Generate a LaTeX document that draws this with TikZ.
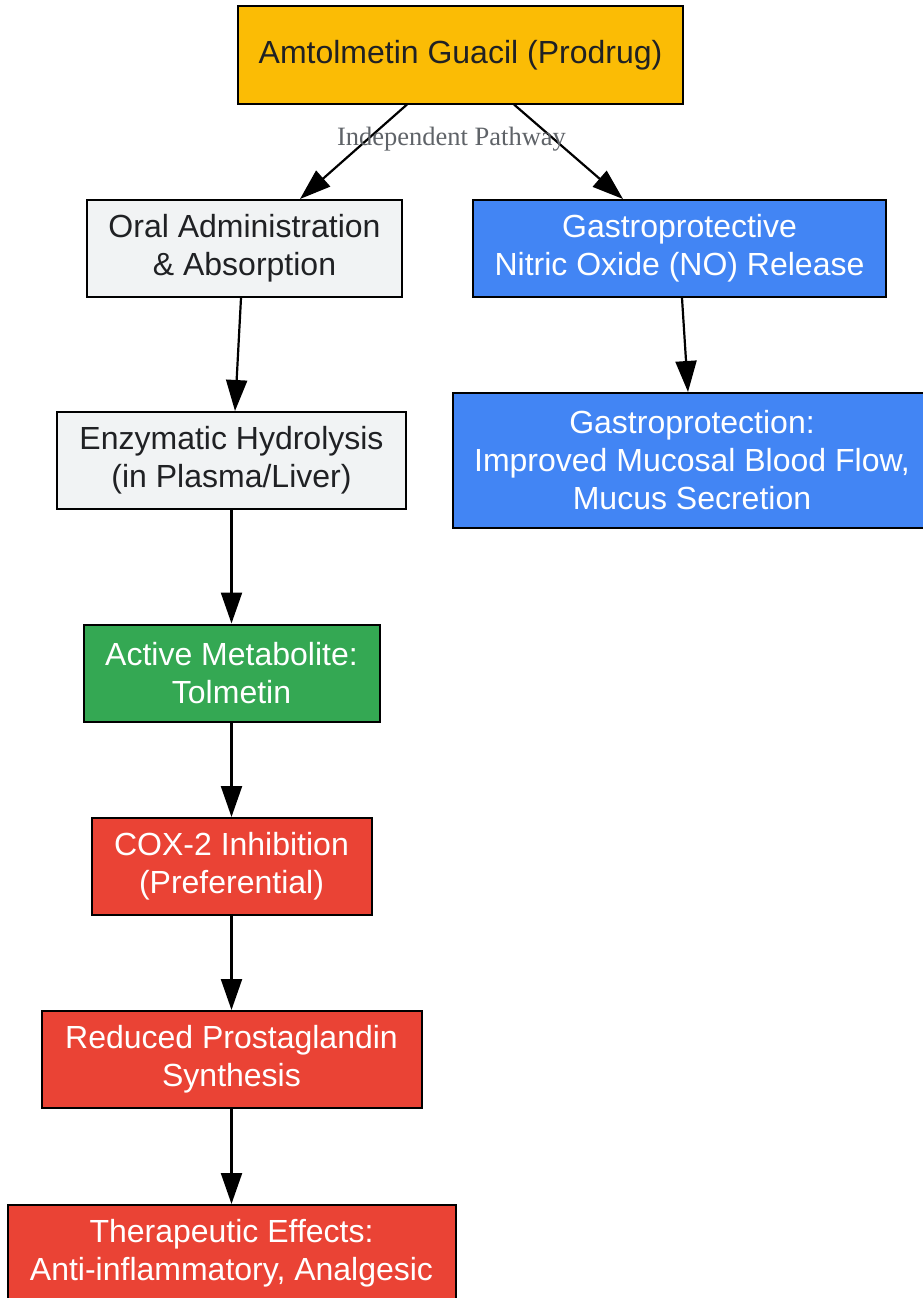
\documentclass[tikz,border=0pt]{standalone}
\usepackage{xcolor}
\usepackage{fontspec}
\setmainfont{Liberation Sans}
\newfontfamily\pathfont{Liberation Serif}
\usetikzlibrary{arrows.meta}

\definecolor{prodrug}{HTML}{FBBC05}
\definecolor{stepgray}{HTML}{F1F3F4}
\definecolor{gastroblue}{HTML}{4285F4}
\definecolor{metagreen}{HTML}{34A853}
\definecolor{effectred}{HTML}{EA4335}
\definecolor{darktext}{HTML}{202124}
\definecolor{labelgray}{HTML}{5F6368}

\tikzset{
    box/.style={rectangle, draw=black, line width=2pt, minimum height=97pt,
        align=center, inner xsep=20pt, font=\fontsize{32}{38}\selectfont},
    arr/.style={-{Triangle[length=31pt,width=21pt]}, line width=2.2pt},
    pathlabel/.style={text=labelgray, font=\pathfont\fontsize{26.5}{30}\selectfont}
}

\begin{document}
\begin{tikzpicture}[x=1pt, y=1pt, node distance=193.5pt]
    \useasboundingbox (0,0) rectangle (922,-1298);

    % Prodrug
    \node (amt) [box, fill=prodrug, text=darktext, minimum width=445pt] at (460.5,-55) {Amtolmetin Guacil (Prodrug)};

    % Metabolic route
    \node (oral) [box, fill=stepgray, text=darktext, minimum width=315pt, below of=amt, xshift=-216pt] {Oral Administration\\\& Absorption};
    \node (hydro) [box, fill=stepgray, text=darktext, minimum width=349pt, below of=oral, yshift=-18.5pt, xshift=-13pt] {Enzymatic Hydrolysis\\(in Plasma/Liver)};
    \node (tolm) [box, fill=metagreen, text=white, minimum width=296pt, below of=hydro, yshift=-19pt] {Active Metabolite:\\Tolmetin};
    \node (cox) [box, fill=effectred, text=white, minimum width=280pt, below of=tolm] {COX-2 Inhibition\\(Preferential)};
    \node (pg) [box, fill=effectred, text=white, minimum width=380pt, below of=cox, yshift=0.5pt] {Reduced Prostaglandin\\Synthesis};
    \node (ther) [box, fill=effectred, text=white, minimum width=448pt, below of=pg, yshift=-0.5pt] {Therapeutic Effects:\\Anti-inflammatory, Analgesic};

    % Gastroprotective route
    \node (nitric) [box, fill=gastroblue, text=white, minimum width=413pt, below of=amt, xshift=219pt] {Gastroprotective\\Nitric Oxide (NO) Release};
    \node (gastro) [box, fill=gastroblue, text=white, minimum width=478pt, minimum height=135pt, below of=nitric, yshift=-18.5pt, xshift=12.5pt] {Gastroprotection:\\Improved Mucosal Blood Flow,\\Mucus Secretion};

    % Arrows
    \draw[arr] ([xshift=-53.5pt]amt.south) -- ([xshift=55.5pt]oral.north);
    \draw[arr] ([xshift=53.5pt]amt.south) -- node[pathlabel, pos=0.362, xshift=-102pt] {Independent Pathway} ([xshift=-56.5pt]nitric.north);
    \draw[arr] ([xshift=-3.5pt]oral.south) -- ([xshift=3.5pt]hydro.north);
    \draw[arr] (hydro) -- (tolm);
    \draw[arr] (tolm) -- (cox);
    \draw[arr] (cox) -- (pg);
    \draw[arr] (pg) -- (ther);
    \draw[arr] ([xshift=2.5pt]nitric.south) -- ([xshift=-4pt]gastro.north);
\end{tikzpicture}
\end{document}
